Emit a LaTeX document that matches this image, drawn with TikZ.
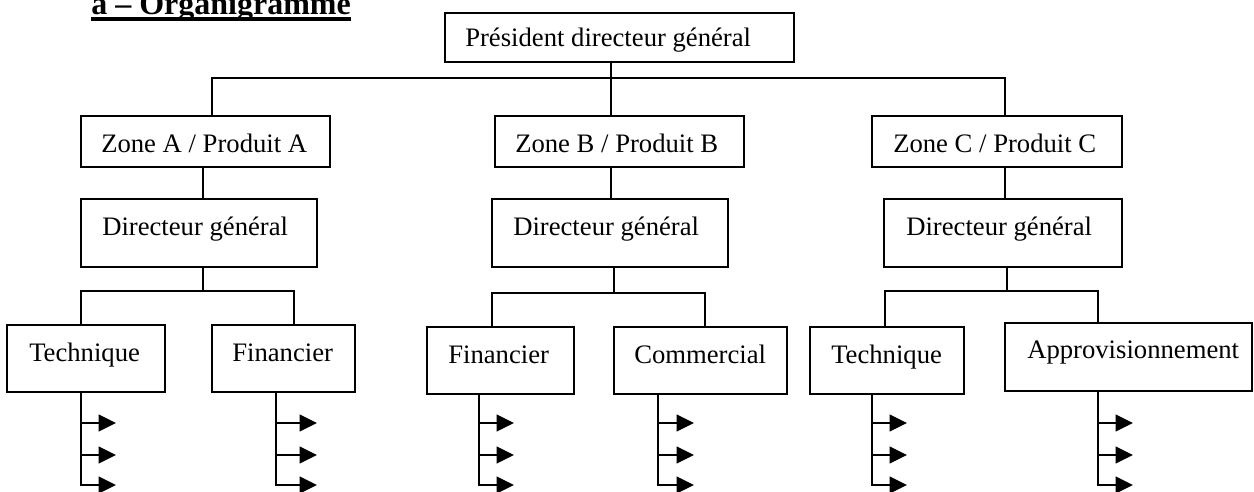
\documentclass[tikz,border=0pt]{standalone}
\usepackage{fontspec}
\setmainfont{Liberation Serif}
\usetikzlibrary{arrows.meta}

% a box drawn from its top-left to bottom-right corner, with its text set at a given baseline
\newcommand\orgbox[8]{%
  \node[box, minimum width={(#4-(#2))*0.75pt}, minimum height={(#5-(#3))*0.75pt}] (#1) at (#2,#3) {};
  \node[lbl] (#1-t) at (#6,#7) {#8};
}

\begin{document}
\begin{tikzpicture}[x=0.75pt, y=-0.75pt,
  box/.style={draw, line width=1.4pt, inner sep=0pt, outer sep=0pt, anchor=north west},
  lbl/.style={inner sep=0pt, anchor=base west, font=\fontsize{20}{24}\selectfont},
  link/.style={line width=1.4pt},
  stub/.style={line width=1.4pt, -{Triangle[length=13pt, width=12.5pt]}},
  heading/.style={inner sep=0pt, anchor=base west, font=\fontsize{24}{28}\selectfont\bfseries}]

\path[use as bounding box, clip] (0,0) rectangle (1254,492);

% heading
\node[heading] (title) at (91,15) {a – Organigramme};
\draw[line width=3pt] ([yshift=-3pt]title.base west) -- ([yshift=-3pt]title.base east);

% boxes
\orgbox{pdg}{445}{13}{794}{62}{465}{47}{Président directeur général}
\orgbox{za}{81}{116}{330}{167}{101}{152}{Zone A / Produit A}
\orgbox{zb}{495}{116}{744}{167}{515}{152}{Zone B / Produit B}
\orgbox{zc}{872}{116}{1122}{167}{893}{152}{Zone C / Produit C}
\orgbox{dga}{81}{199}{317}{267}{102}{235}{Directeur général}
\orgbox{dgb}{492}{199}{728}{267}{513}{235}{Directeur général}
\orgbox{dgc}{884}{199}{1122}{267}{906}{235}{Directeur général}
\orgbox{ta}{7}{325}{165}{392}{29}{361}{Technique}
\orgbox{fa}{212}{325}{355}{392}{232}{361}{Financier}
\orgbox{fb}{427}{327}{574}{394}{448}{363}{Financier}
\orgbox{cm}{614}{327}{787}{394}{634}{363}{Commercial}
\orgbox{tc}{810}{327}{964}{394}{831}{363}{Technique}
\orgbox{ap}{1005}{323}{1252}{391}{1027}{358}{Approvisionnement}

% top level bus
\coordinate (busA) at (212,78);
\coordinate (busB) at (611,78);
\coordinate (busC) at (1005,78);
\draw[link] (pdg.south -| busB) -- (busB);
\draw[link] (za.north -| busA) -- (busA) -- (busC) -- (zc.north -| busC);
\draw[link] (zb.north -| busB) -- (busB);

% zone to director
\coordinate (vA) at (203,0);
\coordinate (vB) at (611,0);
\coordinate (vC) at (1005,0);
\draw[link] (za.south -| vA) -- (dga.north -| vA);
\draw[link] (zb.south -| vB) -- (dgb.north -| vB);
\draw[link] (zc.south -| vC) -- (dgc.north -| vC);

% director to departments
\coordinate (brA) at (203,291);
\coordinate (brA1) at (81,291);
\coordinate (brA2) at (294,291);
\draw[link] (dga.south -| brA) -- (brA);
\draw[link] (ta.north -| brA1) -- (brA1) -- (brA2) -- (fa.north -| brA2);

\coordinate (brB) at (614,293);
\coordinate (brB1) at (492,293);
\coordinate (brB2) at (705,293);
\draw[link] (dgb.south -| brB) -- (brB);
\draw[link] (fb.north -| brB1) -- (brB1) -- (brB2) -- (cm.north -| brB2);

\coordinate (brC) at (1007,291);
\coordinate (brC1) at (885,291);
\coordinate (brC2) at (1098,291);
\draw[link] (dgc.south -| brC) -- (brC);
\draw[link] (tc.north -| brC1) -- (brC1) -- (brC2) -- (ap.north -| brC2);

% sub-units under each department
\foreach \b/\x/\t in {ta/81/116, fa/276/317, fb/479/514, cm/658/694, tc/872/907, ap/1098/1133} {
  \coordinate (\b-x) at (\x,0);
  \coordinate (\b-s1) at (\x,423);
  \coordinate (\b-s2) at (\x,455);
  \coordinate (\b-e1) at (\t,423);
  \coordinate (\b-e2) at (\t,455);
  \coordinate (\b-e3) at (\t,485);
  \draw[stub] (\b.south -| \b-x) |- (\b-e3);
  \draw[stub] (\b-s1) -- (\b-e1);
  \draw[stub] (\b-s2) -- (\b-e2);
}
\end{tikzpicture}
\end{document}
